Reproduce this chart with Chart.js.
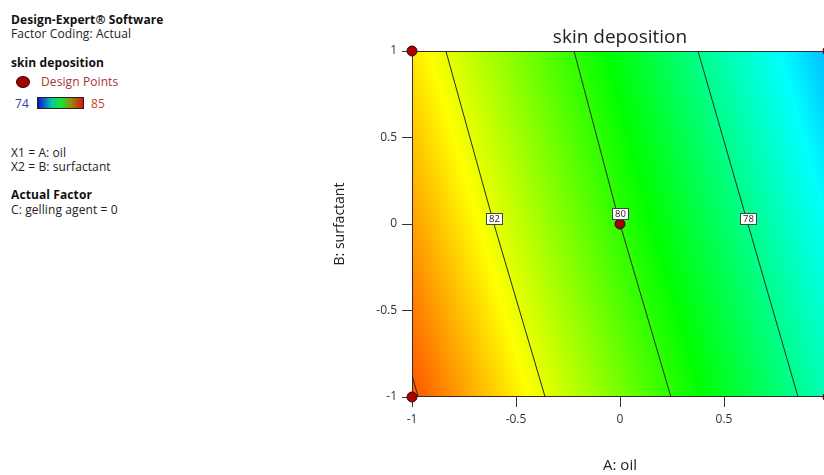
<!DOCTYPE html>
<html>
<head>
<meta charset="utf-8">
<title>skin deposition</title>
<script src="https://cdn.jsdelivr.net/npm/chart.js@4.4.1/dist/chart.umd.min.js"></script>
<style>
  html, body { margin: 0; padding: 0; background: #fff; overflow: hidden; }
  body { width: 824px; height: 475px; position: relative; font-family: "Open Sans", "Noto Sans", sans-serif; }
  #wrap { position: absolute; left: 0; top: 0; width: 840px; height: 475px; }
  .info { position: absolute; left: 11px; font-size: 12px; line-height: 14px; color: #222; white-space: nowrap; letter-spacing: 0.1px; }
  .info.bold { font-weight: bold; color: #111; }
  .dot { position: absolute; left: 16px; top: 76px; width: 12px; height: 10px; border-radius: 50%; background: #a00000; border: 1px solid #3a0000; }
  .bar { position: absolute; left: 37px; top: 97px; width: 45px; height: 10px; border: 1px solid #222;
         background: linear-gradient(to right, #1010d8, #08c8a0 30%, #10e830 50%, #909010 72%, #e01010); }
</style>
</head>
<body>
<div class="info bold" style="top:13px">Design-Expert® Software</div>
<div class="info" style="top:27px">Factor Coding: Actual</div>
<div class="info bold" style="top:56px">skin deposition</div>
<div class="dot"></div>
<div class="info" style="top:75px; left:41px; color:#a83434">Design Points</div>
<div class="info" style="top:97px; left:15px; color:#3a3aa8">74</div>
<div class="bar"></div>
<div class="info" style="top:97px; left:91px; color:#c04830">85</div>
<div class="info" style="top:146px">X1 = A: oil</div>
<div class="info" style="top:160px">X2 = B: surfactant</div>
<div class="info bold" style="top:188px">Actual Factor</div>
<div class="info" style="top:203px">C: gelling agent = 0</div>
<div id="wrap"><canvas id="plot" width="840" height="475"></canvas></div>
<script>
// axis ticks
const xTicks = [-1, -0.5, 0, 0.5, 1];
const yTicks = [-1, -0.5, 0, 0.5, 1];

// response surface sampled on a coarse grid (rows: B = -1, 0, 1)
const gridA = [-1, -0.5, 0, 0.5, 1];
const gridB = [-1, 0, 1];
const surfaceBm1 = [84.1, 82.45, 80.8, 79.15, 77.5];
const surfaceB0  = [83.3, 81.65, 80.0, 78.4, 76.75];
const surfaceBp1 = [82.5, 80.9, 79.3, 77.6, 76.0];
const surfaceRows = [surfaceBm1, surfaceB0, surfaceBp1];

// contour lines
const contour84A = [-1, -0.97];
const contour84B = [-0.875, -1];
const contour82A = [-0.837, -0.606, -0.36];
const contour82B = [1, 0, -1];
const contour80A = [-0.221, 0.0, 0.245];
const contour80B = [1, 0, -1];
const contour78A = [0.375, 0.615, 0.856];
const contour78B = [1, 0, -1];

// contour labels
const labelText = ['82', '80', '78'];
const labelA = [-0.606, 0.0, 0.615];
const labelB = [0.03, 0.055, 0.03];

// design points
const designA = [-1, 0, -1, 1, 1];
const designB = [1, 0, -1, 1, -1];

const colorMin = 74, colorMax = 85;
const colorStops = [
  [0, 0, 255], [0, 255, 255], [0, 255, 0], [255, 255, 0], [255, 0, 0]
];

function colorFor(v) {
  let t = (v - colorMin) / (colorMax - colorMin);
  t = Math.max(0, Math.min(1, t)) * (colorStops.length - 1);
  const i = Math.min(colorStops.length - 2, Math.floor(t));
  const f = t - i;
  const a = colorStops[i], b = colorStops[i + 1];
  return [a[0] + (b[0] - a[0]) * f, a[1] + (b[1] - a[1]) * f, a[2] + (b[2] - a[2]) * f];
}

function locate(arr, v) {
  let i = 0;
  while (i < arr.length - 2 && v > arr[i + 1]) i++;
  const f = (v - arr[i]) / (arr[i + 1] - arr[i]);
  return [i, Math.max(0, Math.min(1, f))];
}

function surfaceAt(a, b) {
  const [i, fa] = locate(gridA, a);
  const [j, fb] = locate(gridB, b);
  const lo = surfaceRows[j][i] * (1 - fa) + surfaceRows[j][i + 1] * fa;
  const hi = surfaceRows[j + 1][i] * (1 - fa) + surfaceRows[j + 1][i + 1] * fa;
  return lo * (1 - fb) + hi * fb;
}

const toPoints = (xs, ys) => xs.map((v, i) => ({ x: v, y: ys[i] }));

const heatmap = {
  id: 'heatmap',
  beforeDatasetsDraw(chart) {
    const { ctx, chartArea: area, scales: { x, y } } = chart;
    const left = Math.round(area.left), top = Math.round(area.top);
    const w = Math.round(area.right) - left, h = Math.round(area.bottom) - top;
    const img = ctx.createImageData(w, h);
    for (let j = 0; j < h; j++) {
      const bv = y.getValueForPixel(top + j + 0.5);
      for (let i = 0; i < w; i++) {
        const av = x.getValueForPixel(left + i + 0.5);
        const c = colorFor(surfaceAt(av, bv));
        const k = (j * w + i) * 4;
        img.data[k] = c[0];
        img.data[k + 1] = c[1];
        img.data[k + 2] = c[2];
        img.data[k + 3] = 255;
      }
    }
    ctx.putImageData(img, left, top);
    ctx.save();
    ctx.strokeStyle = '#3a2c2c';
    ctx.lineWidth = 1;
    ctx.strokeRect(left + 0.5, top + 0.5, w - 1, h - 1);
    ctx.restore();
  },
};

const contourLabels = {
  id: 'contourLabels',
  afterDatasetsDraw(chart) {
    const { ctx, scales: { x, y } } = chart;
    ctx.save();
    ctx.font = '9.5px "Open Sans", sans-serif';
    ctx.textAlign = 'center';
    ctx.textBaseline = 'middle';
    labelText.forEach((t, i) => {
      const px = Math.round(x.getPixelForValue(labelA[i]));
      const py = Math.round(y.getPixelForValue(labelB[i]));
      ctx.fillStyle = '#fff';
      ctx.fillRect(px - 8, py - 6, 17, 12);
      ctx.strokeStyle = '#444';
      ctx.lineWidth = 1;
      ctx.strokeRect(px - 8 + 0.5, py - 6 + 0.5, 16, 11);
      ctx.fillStyle = '#222';
      ctx.fillText(t, px + 0.5, py + 0.5);
    });
    ctx.restore();
  },
};

const plotTitle = {
  id: 'plotTitle',
  afterDraw(chart) {
    const { ctx, chartArea: area } = chart;
    ctx.save();
    ctx.font = '19px "Open Sans", sans-serif';
    ctx.fillStyle = '#222';
    ctx.textAlign = 'center';
    ctx.textBaseline = 'middle';
    ctx.fillText('skin deposition', (area.left + area.right) / 2, 38);
    ctx.restore();
  },
};

const lineStyle = { showLine: true, borderColor: '#2a2a2a', borderWidth: 1, pointRadius: 0, fill: false };

new Chart(document.getElementById('plot'), {
  type: 'scatter',
  data: {
    datasets: [
      { ...lineStyle, data: toPoints(contour84A, contour84B) },
      { ...lineStyle, data: toPoints(contour82A, contour82B) },
      { ...lineStyle, data: toPoints(contour80A, contour80B) },
      { ...lineStyle, data: toPoints(contour78A, contour78B) },
      {
        data: toPoints(designA, designB),
        pointRadius: 5,
        backgroundColor: '#a80000',
        borderColor: '#450000',
        borderWidth: 1,
        clip: false,
      },
    ],
  },
  options: {
    responsive: false,
    animation: false,
    layout: { padding: { left: 300, right: 12, top: 51, bottom: 0 } },
    plugins: { legend: { display: false }, tooltip: { enabled: false } },
    scales: {
      x: {
        type: 'linear',
        min: -1,
        max: 1,
        afterBuildTicks: (s) => { s.ticks = xTicks.map((v) => ({ value: v })); },
        afterFit: (s) => { s.height = 78; },
        border: { display: false },
        grid: { drawOnChartArea: false, drawTicks: true, tickLength: 10, color: '#333' },
        ticks: { color: '#333', padding: 5, font: { size: 12, family: '"Open Sans", sans-serif' }, callback: (v) => String(v) },
        title: { display: true, text: 'A: oil', color: '#222', padding: { top: 0, bottom: 0 }, font: { size: 15, family: '"Open Sans", sans-serif' } },
      },
      y: {
        type: 'linear',
        min: -1,
        max: 1,
        afterBuildTicks: (s) => { s.ticks = yTicks.map((v) => ({ value: v })); },
        afterFit: (s) => { s.width = 112; },
        border: { display: false },
        grid: { drawOnChartArea: false, drawTicks: true, tickLength: 10, color: '#333' },
        ticks: { color: '#333', padding: 5, font: { size: 12, family: '"Open Sans", sans-serif' }, callback: (v) => String(v) },
        title: { display: true, text: 'B: surfactant', color: '#222', padding: { top: 31.6, bottom: 0 }, font: { size: 14, family: '"Open Sans", sans-serif' } },
      },
    },
  },
  plugins: [heatmap, contourLabels, plotTitle],
});
</script>
</body>
</html>
